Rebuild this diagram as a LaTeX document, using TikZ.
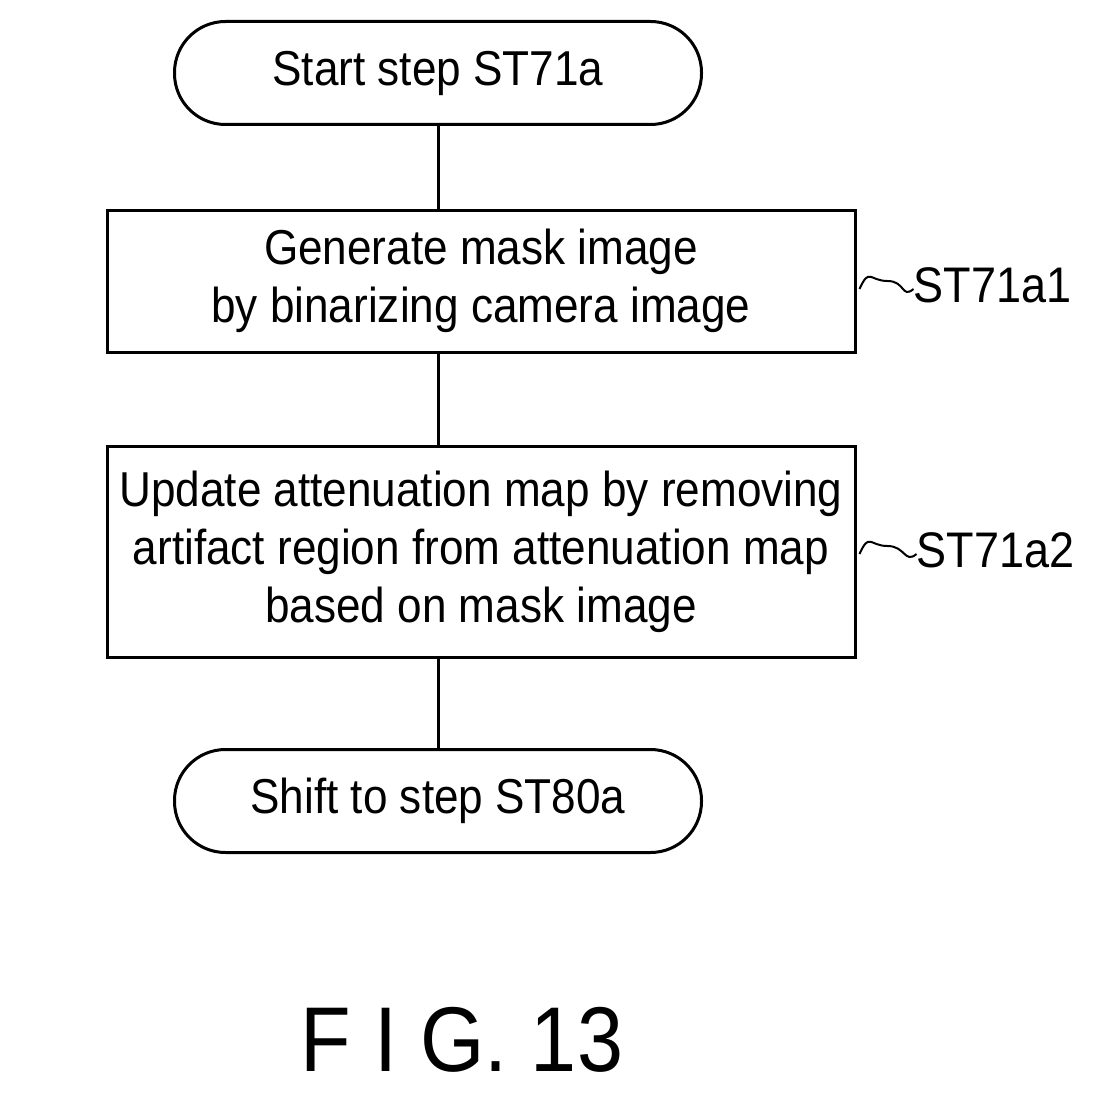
\documentclass[tikz,border=0pt]{standalone}
\usepackage{fontspec}
\setmainfont{Liberation Sans}[FakeStretch=0.9]
\begin{document}
\begin{tikzpicture}[x=1pt,y=-1pt,line width=3pt,
  term/.style={draw,rounded corners=51pt,minimum width=527pt,minimum height=103pt,inner sep=0pt},
  box/.style={draw,minimum width=748pt,inner sep=0pt,align=center},
  txt/.style={font=\fontsize{49}{58}\selectfont},
  lab/.style={font=\fontsize{50}{52}\selectfont,anchor=west,inner sep=0pt}]
\useasboundingbox (0,0) rectangle (1097,1097);
\node[term,txt] (s) at (438,73) {Start step ST71a};
\node[box,txt,minimum height=142pt] (b1) at (481,281) {Generate mask image\\by binarizing camera image};
\node[box,txt,minimum height=211pt] (b2) at (481,552) {Update attenuation map by removing\\artifact region from attenuation map\\based on mask image};
\node[term,txt] (e) at (438,801) {Shift to step ST80a};
\draw (s.south) -- (s.south |- b1.north);
\draw (s.south |- b1.south) -- (s.south |- b2.north);
\draw (s.south |- b2.south) -- (e.north);
\node[lab] (l1) at (912,285) {ST71a1};
\node[lab] (l2) at (915,550) {ST71a2};
\draw[line width=2pt] (b1.east |- l1) ++(3,4) .. controls +(10,-22) and +(-18,0) .. +(28,-8) .. controls +(18,0) and +(-12,10) .. +(54,0);
\draw[line width=2pt] (b2.east |- l2) ++(3,4) .. controls +(10,-22) and +(-18,0) .. +(28,-8) .. controls +(18,0) and +(-12,10) .. +(57,0);
\node[font=\fontsize{92}{100}\selectfont] (f) at (462,1040) {F I G. 13};
\end{tikzpicture}
\end{document}
